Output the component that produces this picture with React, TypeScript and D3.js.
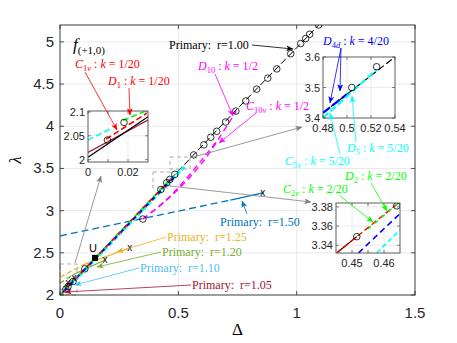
import React from 'react';
import * as d3 from 'd3';

// ---- main axes ----
const xTicks = [0, 0.5, 1, 1.5];
const yTicks = [2, 2.5, 3, 3.5, 4, 4.5, 5];

// primary branch r=1.00 (black) and its markers
const primaryDelta = [0, 0.25, 0.5, 0.75, 1.0, 1.1];
const primaryLambda = [2.0, 2.74, 3.47, 4.21, 4.93, 5.22];
const circleDelta = [0.025, 0.034, 0.055, 0.105, 0.35, 0.426, 0.451, 0.464, 0.485, 0.565, 0.608, 0.637, 0.662, 0.7, 0.743, 0.785, 0.831, 0.878, 0.916, 0.975, 1.017, 1.038, 1.055, 1.093];
const circleLambda = [2.07, 2.1, 2.16, 2.31, 2.9, 3.25, 3.33, 3.37, 3.43, 3.66, 3.78, 3.87, 3.94, 4.05, 4.18, 4.3, 4.44, 4.57, 4.68, 4.86, 4.98, 5.04, 5.09, 5.2];

// bifurcated branches bundled along the primary
const redDelta = [0, 0.47];
const redLambda = [2.0, 3.38];
const greenDelta = [0, 0.465];
const greenLambda = [2.0, 3.37];
const blueDelta = [0, 0.49];
const blueLambda = [2.0, 3.42];
const cyanDelta = [0, 0.525];
const cyanLambda = [1.99, 3.52];

// k = 1/2 branches (magenta)
const d10Delta = [0.35, 0.44, 0.53, 0.61, 0.67, 0.72, 0.745];
const d10Lambda = [2.9, 3.1, 3.34, 3.6, 3.85, 4.07, 4.18];
const c10Delta = [0.35, 0.45, 0.54, 0.61, 0.665];
const c10Lambda = [2.9, 3.13, 3.4, 3.64, 3.83];

// other primary branches: [dashed part, solid part]
const r150Delta = [0, 0.72, 0.857];
const r150Lambda = [2.7, 3.125, 3.21];
const r125Delta = [0, 0.097, 0.295];
const r125Lambda = [2.21, 2.356, 2.557];
const r120Delta = [0, 0.055, 0.19];
const r120Lambda = [2.14, 2.24, 2.415];
const r110Delta = [0, 0.035, 0.059];
const r110Lambda = [2.05, 2.12, 2.2];
const r105Delta = [0, 0.02, 0.034];
const r105Lambda = [2.01, 2.05, 2.14];

const uPoint = [0.148, 2.44];

// ---- inset 1 ----
const in1Black = { xs: [0, 0.03], ys: [2.005, 2.09] };
const in1DarkRed = { xs: [0, 0.03], ys: [2.015, 2.083] };
const in1Red = { xs: [0.009, 0.0293], ys: [2.043, 2.097] };
const in1Cyan = { xs: [0, 0.0118], ys: [2.041, 2.066] };
const in1Green = { xs: [0.0175, 0.03], ys: [2.082, 2.104] };
const in1CircX = [0.0097, 0.018];
const in1CircY = [2.041, 2.078];

// ---- inset 2 ----
const in2Black = { xs: [0.48, 0.54], ys: [3.417, 3.6] };
const in2Blue = { xs: [0.48, 0.5], ys: [3.417, 3.478] };
const in2Cyan = { xs: [0.48, 0.525], ys: [3.4, 3.56] };
const in2CircX = [0.504, 0.5247];
const in2CircY = [3.5, 3.568];

// ---- inset 3 ----
const in3Upper = { xs: [0.4452, 0.4645], ys: [3.332, 3.384] };
const in3Lower = { xs: [0.4452, 0.4515], ys: [3.332, 3.349] };
const in3Blue = { xs: [0.452, 0.465], ys: [3.332, 3.373] };
const in3Cyan = { xs: [0.4577, 0.465], ys: [3.332, 3.356] };
const in3Green = { xs: [0.455, 0.4645], ys: [3.357, 3.384] };
const in3CircX = [0.4515, 0.464];
const in3CircY = [3.349, 3.381];

const C = {
  black: '#000000', red: '#ff0000', mag: '#ff00ff', blue: '#0000ff', cyan: '#00ffff', green: '#00ff00',
  gray: '#808080', r150: '#0072BD', r125: '#EDB120', r120: '#77AC30', r110: '#4DBEEE', r105: '#A2142F',
};

const serif = "'Liberation Serif','DejaVu Serif',serif";
const sans = "'Liberation Sans',Arial,sans-serif";

const L = 60, R = 415, T = 25, B = 295;
const x = d3.scaleLinear().domain([0, 1.5]).range([L, R]);
const y = d3.scaleLinear().domain([2, 5.2]).range([B, T]);

type P = [number, number];
const zip = (xs: number[], ys: number[]): P[] => xs.map((d, i) => [d, ys[i]]);

function MathLab({ x0, y0, color, base, num, v, val }: any) {
  return (
    <text x={x0} y={y0} fill={color} fontFamily={serif} fontSize={12}>
      <tspan fontStyle="italic">{base}</tspan>
      <tspan fontSize={8.5} dy={2.5}>{num}<tspan fontStyle="italic">{v}</tspan></tspan>
      <tspan dy={-2.5}>{'\u00A0:\u00A0'}</tspan>
      <tspan fontStyle="italic">k</tspan>
      <tspan>{'\u00A0=\u00A0' + val}</tspan>
    </text>
  );
}

function Arrow({ a, b, color, w = 0.8 }: any) {
  const key = Object.keys(C).find((k) => (C as any)[k] === color);
  return <line x1={a[0]} y1={a[1]} x2={b[0]} y2={b[1]} stroke={color} strokeWidth={w} markerEnd={`url(#ah-${key})`} />;
}

function Inset({ id, box, xDom, yDom, xTickVals, yTickVals, xLab, yLab, xGrid, yGrid, children }: any) {
  const [l, t, r, b] = box;
  const sx = d3.scaleLinear().domain(xDom).range([l, r]);
  const sy = d3.scaleLinear().domain(yDom).range([b, t]);
  return (
    <g>
      <clipPath id={id}><rect x={l} y={t} width={r - l} height={b - t} /></clipPath>
      <rect x={l} y={t} width={r - l} height={b - t} fill="#fff" />
      {xGrid.map((d: number) => <line key={'gx' + d} x1={sx(d)} x2={sx(d)} y1={t} y2={b} stroke="#e3e3e3" strokeWidth={0.7} />)}
      {yGrid.map((d: number) => <line key={'gy' + d} x1={l} x2={r} y1={sy(d)} y2={sy(d)} stroke="#e3e3e3" strokeWidth={0.7} />)}
      <g clipPath={`url(#${id})`}>{children(sx, sy)}</g>
      <rect x={l} y={t} width={r - l} height={b - t} fill="none" stroke="#4d4d4d" strokeWidth={0.9} />
      {xTickVals.map((d: number) => (
        <g key={'tx' + d}>
          <line x1={sx(d)} x2={sx(d)} y1={b} y2={b - 3} stroke="#4d4d4d" strokeWidth={0.7} />
          <line x1={sx(d)} x2={sx(d)} y1={t} y2={t + 3} stroke="#4d4d4d" strokeWidth={0.7} />
        </g>
      ))}
      {yTickVals.map((d: number) => (
        <g key={'ty' + d}>
          <line x1={l} x2={l + 3} y1={sy(d)} y2={sy(d)} stroke="#4d4d4d" strokeWidth={0.7} />
          <line x1={r} x2={r - 3} y1={sy(d)} y2={sy(d)} stroke="#4d4d4d" strokeWidth={0.7} />
        </g>
      ))}
      {xLab.map((d: [number, string]) => (
        <text key={'lx' + d[1]} x={sx(d[0])} y={b + 14} textAnchor="middle" fontFamily={sans} fontSize={11} fill="#262626">{d[1]}</text>
      ))}
      {yLab.map((d: [number, string]) => (
        <text key={'ly' + d[1]} x={l - 3} y={sy(d[0]) + 4} textAnchor="end" fontFamily={sans} fontSize={11} fill="#262626">{d[1]}</text>
      ))}
    </g>
  );
}

export default function App() {
  const line = d3.line<P>().x((d) => x(d[0])).y((d) => y(d[1]));
  const curve = d3.line<P>().x((d) => x(d[0])).y((d) => y(d[1])).curve(d3.curveCatmullRom);
  const seg = (xs: number[], ys: number[], i0: number, i1: number) => line(zip(xs.slice(i0, i1 + 1), ys.slice(i0, i1 + 1))) || '';

  const mk = (sx: any, sy: any) => d3.line<P>().x((d) => sx(d[0])).y((d) => sy(d[1]));

  return (
    <svg width={457} height={343} style={{ position: 'absolute', left: 0, top: 0, background: '#fff' }}>
      <defs>
        {Object.entries(C).map(([k, c]) => (
          <marker key={k} id={`ah-${k}`} viewBox="0 0 10 10" refX={9.5} refY={5} markerWidth={7} markerHeight={7} markerUnits="userSpaceOnUse" orient="auto">
            <path d="M0,0.8 L10,5 L0,9.2 L2.5,5 z" fill={c} />
          </marker>
        ))}
        <clipPath id="main"><rect x={L} y={T} width={R - L} height={B - T} /></clipPath>
      </defs>
      <rect x={L} y={T} width={R - L} height={B - T} fill="#fff" />
      {xTicks.slice(1, -1).map((d) => <line key={'gx' + d} x1={x(d)} x2={x(d)} y1={T} y2={B} stroke="#e3e3e3" strokeWidth={0.8} />)}
      {yTicks.slice(1).map((d) => <line key={'gy' + d} x1={L} x2={R} y1={y(d)} y2={y(d)} stroke="#e3e3e3" strokeWidth={0.8} />)}

      <g clipPath="url(#main)">
        {/* other primary branches */}
        <path d={seg(r150Delta, r150Lambda, 0, 1)} stroke={C.r150} strokeWidth={1.3} strokeDasharray="7,4" fill="none" />
        <path d={seg(r150Delta, r150Lambda, 1, 2)} stroke={C.r150} strokeWidth={1.3} fill="none" />
        <path d={seg(r125Delta, r125Lambda, 0, 1)} stroke={C.r125} strokeWidth={1.3} strokeDasharray="5,3" fill="none" />
        <path d={seg(r125Delta, r125Lambda, 1, 2)} stroke={C.r125} strokeWidth={1.3} fill="none" />
        <path d={seg(r120Delta, r120Lambda, 0, 1)} stroke={C.r120} strokeWidth={1.3} strokeDasharray="5,3" fill="none" />
        <path d={seg(r120Delta, r120Lambda, 1, 2)} stroke={C.r120} strokeWidth={1.3} fill="none" />
        <path d={seg(r110Delta, r110Lambda, 0, 1)} stroke={C.r110} strokeWidth={1.3} strokeDasharray="4,3" fill="none" />
        <path d={seg(r110Delta, r110Lambda, 1, 2)} stroke={C.r110} strokeWidth={1.3} fill="none" />
        <path d={seg(r105Delta, r105Lambda, 0, 1)} stroke={C.r105} strokeWidth={1.3} strokeDasharray="4,3" fill="none" />
        <path d={seg(r105Delta, r105Lambda, 1, 2)} stroke={C.r105} strokeWidth={1.3} fill="none" />

        {/* magenta k=1/2 */}
        <path d={curve(zip(d10Delta, d10Lambda)) || ''} stroke={C.mag} strokeWidth={1.4} strokeDasharray="6,4" fill="none" />
        <path d={curve(zip(c10Delta, c10Lambda)) || ''} stroke={C.mag} strokeWidth={1.4} strokeDasharray="6,4" fill="none" />

        {/* primary r=1.00 */}
        <path d={line(zip(primaryDelta, primaryLambda)) || ''} stroke={C.black} strokeWidth={1} strokeDasharray="7,3" fill="none" />
        <path d={line(zip(cyanDelta, cyanLambda)) || ''} stroke={C.cyan} strokeWidth={3} strokeDasharray="5,2" fill="none" />
        <path d={line(zip(greenDelta, greenLambda)) || ''} stroke={C.green} strokeWidth={1.8} strokeDasharray="4,5" fill="none" />
        <path d={line(zip(blueDelta, blueLambda)) || ''} stroke={C.blue} strokeWidth={2} strokeDasharray="4,5" strokeDashoffset={3} fill="none" />
        <path d={line(zip(redDelta, redLambda)) || ''} stroke={C.red} strokeWidth={1.8} strokeDasharray="4,5" strokeDashoffset={6} fill="none" />
        {circleDelta.map((d, i) => <circle key={'c' + i} cx={x(d)} cy={y(circleLambda[i])} r={3.3} fill="none" stroke="#000" strokeWidth={0.8} />)}

        {/* x markers and U */}
        {[[r150Delta, r150Lambda], [r125Delta, r125Lambda], [r120Delta, r120Lambda], [r110Delta, r110Lambda], [r105Delta, r105Lambda]].map(([xs, ys], i) => (
          <text key={'x' + i} x={x(xs[2])} y={y(ys[2]) + 3} textAnchor="middle" fontFamily={sans} fontSize={10} fill="#000">x</text>
        ))}
        <rect x={x(uPoint[0]) - 3} y={y(uPoint[1]) - 3} width={6} height={6} fill="#000" />
      </g>
      <text x={x(uPoint[0]) - 2} y={y(uPoint[1]) - 6} textAnchor="middle" fontFamily={sans} fontSize={11} fill="#000">U</text>

      {/* dashed zoom boxes */}
      <rect x={60} y={264} width={17} height={31} fill="none" stroke="#999" strokeWidth={0.8} strokeDasharray="4,3" />
      <rect x={170} y={157} width={20} height={12} fill="none" stroke="#999" strokeWidth={0.8} strokeDasharray="4,3" />
      <rect x={153} y={172} width={17} height={16} fill="none" stroke="#999" strokeWidth={0.8} strokeDasharray="4,3" />

      {/* axes box and ticks */}
      <rect x={L} y={T} width={R - L} height={B - T} fill="none" stroke="#262626" strokeWidth={0.9} />
      {xTicks.map((d) => (
        <g key={'tx' + d}>
          <line x1={x(d)} x2={x(d)} y1={B} y2={B - 4} stroke="#262626" strokeWidth={0.8} />
          <line x1={x(d)} x2={x(d)} y1={T} y2={T + 4} stroke="#262626" strokeWidth={0.8} />
          <text x={x(d)} y={B + 23} textAnchor="middle" fontFamily={sans} fontSize={15} fill="#262626">{d}</text>
        </g>
      ))}
      {yTicks.map((d) => (
        <g key={'ty' + d}>
          <line x1={L} x2={L + 4} y1={y(d)} y2={y(d)} stroke="#262626" strokeWidth={0.8} />
          <line x1={R} x2={R - 4} y1={y(d)} y2={y(d)} stroke="#262626" strokeWidth={0.8} />
          <text x={L - 6} y={y(d) + 5} textAnchor="end" fontFamily={sans} fontSize={15} fill="#262626">{d}</text>
        </g>
      ))}
      <text x={(L + R) / 2} y={335} textAnchor="middle" fontFamily={serif} fontSize={17} fill="#000">Δ</text>
      <text transform={`translate(21,${(T + B) / 2}) rotate(-90)`} textAnchor="middle" fontFamily={serif} fontStyle="italic" fontSize={17} fill="#000">λ</text>
      <text x={73} y={50} fontFamily={serif} fontSize={17} fill="#000">
        <tspan fontStyle="italic">f</tspan>
        <tspan fontSize={11} dy={4}>(+1,0)</tspan>
      </text>

      {/* gray pointers to insets */}
      <Arrow a={[75, 263]} b={[101, 176]} color={C.gray} />
      <Arrow a={[190, 158]} b={[302, 127]} color={C.gray} />
      <Arrow a={[170, 186]} b={[311, 202]} color={C.gray} />

      {/* inset 1 */}
      <Inset id="in1" box={[88, 111, 148, 162]} xDom={[0, 0.03]} yDom={[1.995, 2.102]}
        xTickVals={[0, 0.01, 0.02]} yTickVals={[2, 2.05, 2.1]} xGrid={[0.01, 0.02]} yGrid={[2.05]}
        xLab={[[0, '0'], [0.02, '0.02']]} yLab={[[2, '2'], [2.05, '2.05'], [2.1, '2.1']]}>
        {(sx: any, sy: any) => {
          const l = mk(sx, sy);
          return (
            <g>
              <path d={l(zip(in1DarkRed.xs, in1DarkRed.ys)) || ''} stroke={C.r105} strokeWidth={1.2} fill="none" />
              <path d={l(zip(in1Black.xs, in1Black.ys)) || ''} stroke="#000" strokeWidth={1.2} fill="none" />
              <path d={l(zip(in1Cyan.xs, in1Cyan.ys)) || ''} stroke={C.cyan} strokeWidth={1.6} strokeDasharray="6,3" fill="none" />
              <path d={l(zip(in1Green.xs, in1Green.ys)) || ''} stroke={C.green} strokeWidth={1.6} strokeDasharray="6,3" fill="none" />
              <path d={l(zip(in1Red.xs, in1Red.ys)) || ''} stroke={C.red} strokeWidth={1.6} strokeDasharray="6,3" fill="none" />
              {in1CircX.map((d, i) => <circle key={i} cx={sx(d)} cy={sy(in1CircY[i])} r={3.3} fill="none" stroke="#000" strokeWidth={0.8} />)}
            </g>
          );
        }}
      </Inset>

      {/* inset 2 */}
      <Inset id="in2" box={[323, 57, 395, 118]} xDom={[0.48, 0.54]} yDom={[3.4, 3.6]}
        xTickVals={[0.48, 0.5, 0.52, 0.54]} yTickVals={[3.4, 3.5, 3.6]} xGrid={[0.5, 0.52]} yGrid={[3.5]}
        xLab={[[0.48, '0.48'], [0.5, '0.5'], [0.52, '0.52'], [0.54, '0.54']]} yLab={[[3.4, '3.4'], [3.5, '3.5'], [3.6, '3.6']]}>
        {(sx: any, sy: any) => {
          const l = mk(sx, sy);
          return (
            <g>
              <path d={l(zip(in2Black.xs, in2Black.ys)) || ''} stroke="#000" strokeWidth={1.2} strokeDasharray="7,3" fill="none" />
              <path d={l(zip(in2Blue.xs, in2Blue.ys)) || ''} stroke={C.blue} strokeWidth={2.2} strokeDasharray="9,3" fill="none" />
              <path d={l(zip(in2Cyan.xs, in2Cyan.ys)) || ''} stroke={C.cyan} strokeWidth={2.2} strokeDasharray="7,3" fill="none" />
              {in2CircX.map((d, i) => <circle key={i} cx={sx(d)} cy={sy(in2CircY[i])} r={3.3} fill="none" stroke="#000" strokeWidth={0.8} />)}
            </g>
          );
        }}
      </Inset>

      {/* inset 3 */}
      <Inset id="in3" box={[336, 203, 400, 253]} xDom={[0.445, 0.465]} yDom={[3.332, 3.384]}
        xTickVals={[0.45, 0.455, 0.46]} yTickVals={[3.34, 3.36, 3.38]} xGrid={[0.45, 0.455, 0.46]} yGrid={[3.34, 3.36, 3.38]}
        xLab={[[0.45, '0.45'], [0.46, '0.46']]} yLab={[[3.34, '3.34'], [3.36, '3.36'], [3.38, '3.38']]}>
        {(sx: any, sy: any) => {
          const l = mk(sx, sy);
          return (
            <g>
              <path d={l(zip(in3Blue.xs, in3Blue.ys)) || ''} stroke={C.blue} strokeWidth={1.6} strokeDasharray="6,4" fill="none" />
              <path d={l(zip(in3Cyan.xs, in3Cyan.ys)) || ''} stroke={C.cyan} strokeWidth={1.6} strokeDasharray="5,3" fill="none" />
              <path d={l(zip(in3Lower.xs, in3Lower.ys)) || ''} stroke="#000" strokeWidth={1.2} fill="none" />
              <path d={l(zip(in3Upper.xs, in3Upper.ys)) || ''} stroke={C.red} strokeWidth={1.4} strokeDasharray="6,3" fill="none" />
              <path d={l(zip(in3Green.xs, in3Green.ys)) || ''} stroke={C.green} strokeWidth={1.4} strokeDasharray="4,5" fill="none" />
              {in3CircX.map((d, i) => <circle key={i} cx={sx(d)} cy={sy(in3CircY[i])} r={3.3} fill="none" stroke="#000" strokeWidth={0.8} />)}
            </g>
          );
        }}
      </Inset>

      {/* annotations */}
      <text x={169} y={49} fontFamily={serif} fontSize={12} fill="#000">{'Primary:\u00A0 r=1.00'}</text>
      <Arrow a={[252, 45]} b={[293, 49]} color={C.black} />

      <MathLab x0={75} y0={68} color={C.red} base="C" num="1" v="v" val="1/20" />
      <MathLab x0={108} y0={85} color={C.red} base="D" num="1" v="" val="1/20" />
      <Arrow a={[85, 72]} b={[117, 130]} color={C.red} />
      <Arrow a={[129, 88]} b={[130, 115]} color={C.red} />

      <MathLab x0={198} y0={70} color={C.mag} base="D" num="10" v="" val="1/2" />
      <MathLab x0={246} y0={110} color={C.mag} base="C" num="10" v="v" val="1/2" />
      <Arrow a={[215, 74]} b={[233, 116]} color={C.mag} />
      <Arrow a={[256, 113]} b={[219, 143]} color={C.mag} />

      <MathLab x0={323} y0={45} color={C.blue} base="D" num="4" v="d" val="4/20" />
      <Arrow a={[341, 48]} b={[330, 103]} color={C.blue} />
      <Arrow a={[341, 48]} b={[340, 91]} color={C.blue} />

      <MathLab x0={347} y0={152} color={C.cyan} base="D" num="5" v="" val="5/20" />
      <MathLab x0={285} y0={165} color={C.cyan} base="C" num="5" v="v" val="5/20" />
      <Arrow a={[356, 142]} b={[352, 96]} color={C.cyan} />
      <Arrow a={[340, 154]} b={[330, 113]} color={C.cyan} />

      <MathLab x0={283} y0={193} color={C.green} base="C" num="2" v="v" val="2/20" />
      <MathLab x0={345} y0={180} color={C.green} base="D" num="2" v="" val="2/20" />
      <Arrow a={[340, 196]} b={[373, 222]} color={C.green} />
      <Arrow a={[371, 183]} b={[387, 211]} color={C.green} />

      <text x={220} y={226} fontFamily={serif} fontSize={12} fill={C.r150}>{'Primary:\u00A0 r=1.50'}</text>
      <Arrow a={[247, 214]} b={[242, 201]} color={C.r150} />
      <text x={167} y={241} fontFamily={serif} fontSize={12} fill={C.r125}>{'Primary:\u00A0 r=1.25'}</text>
      <Arrow a={[166, 237]} b={[117, 252]} color={C.r125} />
      <text x={162} y={256} fontFamily={serif} fontSize={12} fill={C.r120}>{'Primary:\u00A0 r=1.20'}</text>
      <Arrow a={[161, 252]} b={[97, 267]} color={C.r120} />
      <text x={140} y={272} fontFamily={serif} fontSize={12} fill={C.r110}>{'Primary:\u00A0 r=1.10'}</text>
      <Arrow a={[139, 268]} b={[75, 285]} color={C.r110} />
      <text x={192} y={289} fontFamily={serif} fontSize={12} fill={C.r105}>{'Primary:\u00A0 r=1.05'}</text>
      <Arrow a={[191, 285]} b={[65, 292]} color={C.r105} />
    </svg>
  );
}
